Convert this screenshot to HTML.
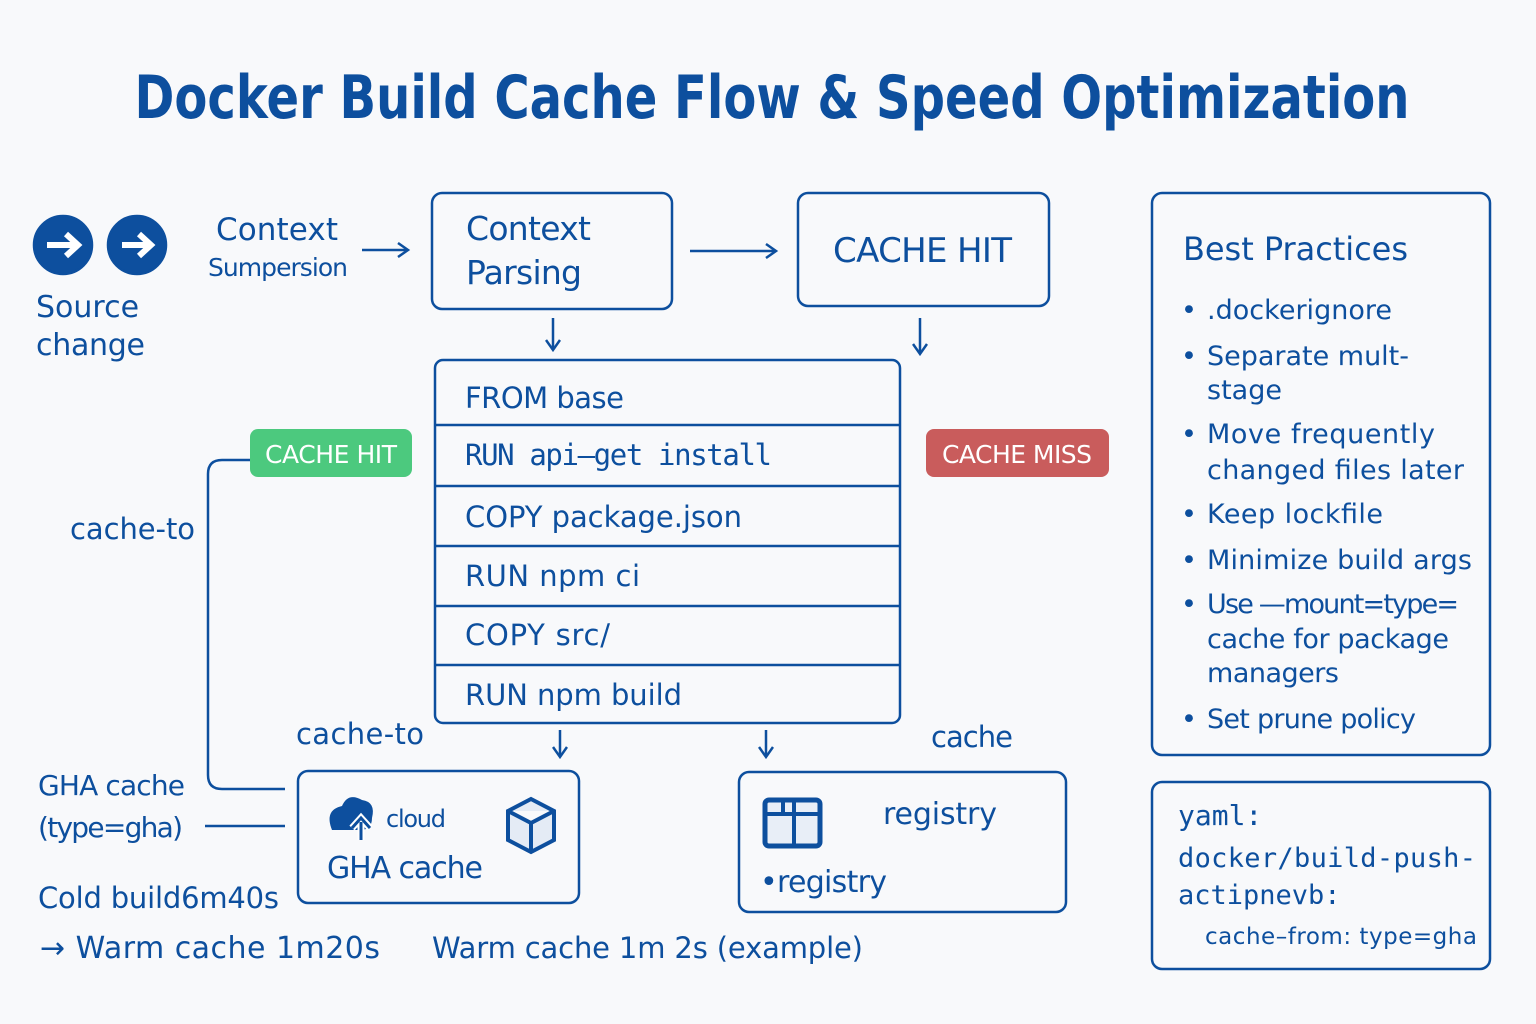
<!DOCTYPE html>
<html><head><meta charset="utf-8"><style>
html,body{margin:0;padding:0;background:#f8f9fb;}
svg{display:block}
text{font-family:"DejaVu Sans","Liberation Sans",sans-serif;fill:#0d4f9e}
.m{font-family:"DejaVu Sans Mono","Liberation Mono",monospace}
</style></head><body>
<svg width="1536" height="1024" viewBox="0 0 1536 1024" xmlns="http://www.w3.org/2000/svg">
<defs><marker id="a" markerWidth="14" markerHeight="16" refX="11" refY="8" orient="auto" markerUnits="userSpaceOnUse"><path d="M1,1 L11,8 L1,15" fill="none" stroke="#0d4f9e" stroke-width="2.5"/></marker></defs>
<rect width="1536" height="1024" fill="#f8f9fb"/>
<text x="772" y="118" text-anchor="middle" font-size="60" font-weight="bold" textLength="1275" lengthAdjust="spacingAndGlyphs">Docker Build Cache Flow &amp; Speed Optimization</text>
<g stroke="#0d4f9e" stroke-width="2.5" fill="none">
<circle cx="63" cy="245" r="29" fill="#0d4f9e"/><circle cx="137" cy="245" r="29" fill="#0d4f9e"/>
<path d="M47,245 H77 M66,234 L78,245 L66,256" stroke="#fff" stroke-width="6"/>
<path d="M122,245 H150 M139,234 L151,245 L139,256" stroke="#fff" stroke-width="6"/>
<line x1="362" y1="250" x2="408" y2="250" marker-end="url(#a)"/>
<rect x="432" y="193" width="240" height="116" rx="10"/>
<line x1="690" y1="251" x2="776" y2="251" marker-end="url(#a)"/>
<rect x="798" y="193" width="251" height="113" rx="10"/>
<line x1="553" y1="318" x2="553" y2="350" marker-end="url(#a)"/>
<line x1="920" y1="318" x2="920" y2="354" marker-end="url(#a)"/>
<rect x="435" y="360" width="465" height="363" rx="8"/>
<path d="M435,425H900 M435,486H900 M435,546H900 M435,606H900 M435,665H900"/>
<path d="M285,789 H222 Q208,789 208,775 V474 Q208,460 222,460 H250"/>
<line x1="560" y1="730" x2="560" y2="757" marker-end="url(#a)"/>
<line x1="766" y1="730" x2="766" y2="757" marker-end="url(#a)"/>
<rect x="298" y="771" width="281" height="132" rx="10"/>
<rect x="739" y="772" width="327" height="140" rx="10"/>
<line x1="205" y1="826" x2="285" y2="826"/>
<rect x="1152" y="193" width="338" height="562" rx="10"/>
<rect x="1152" y="782" width="338" height="187" rx="10"/>
<path d="M531,799 L554,811 V840 L531,852 L508,840 V811 Z M508,811 L531,823 L554,811 M531,823 V852" stroke-width="4" fill="#e4ebf5"/>
<rect x="765" y="800" width="55" height="46" rx="4" stroke-width="5" fill="#e8eef7"/>
<path d="M765,814 H820 M783,800 V814 M794,800 V846" stroke-width="4"/>
</g>
<path d="M332,830 Q324,810 342,806 Q348,792 362,800 Q376,802 372,818 Q372,830 360,830 Z" fill="#0d4f9e"/>
<path d="M361,840 V822 M352,828 L361,818 L370,828" stroke="#fff" stroke-width="7" fill="none"/>
<path d="M361,840 V822 M352,828 L361,818 L370,828" stroke="#0d4f9e" stroke-width="3" fill="none"/>
<rect x="250" y="429" width="162" height="48" rx="8" fill="#4cc97e"/>
<text x="331" y="463" text-anchor="middle" font-size="25" style="fill:#fff" textLength="132">CACHE HIT</text>
<rect x="926" y="429" width="183" height="48" rx="8" fill="#c95c5c"/>
<text x="1017" y="463" text-anchor="middle" font-size="25" style="fill:#fff" textLength="150">CACHE MISS</text>
<text x="36" y="317" font-size="30">Source</text>
<text x="36" y="355" font-size="30" textLength="109">change</text>
<text x="216" y="240" font-size="31" textLength="122">Context</text>
<text x="208" y="276" font-size="25" textLength="140">Sumpersion</text>
<text x="466" y="240" font-size="33" textLength="125">Context</text>
<text x="466" y="284" font-size="33" textLength="116">Parsing</text>
<text x="833" y="262" font-size="34" textLength="179">CACHE HIT</text>
<g font-size="29">
<text x="465" y="408" textLength="159">FROM base</text>
<text x="465" y="465" class="m" textLength="307">RUN api–get install</text>
<text x="465" y="527" textLength="277">COPY package.json</text>
<text x="465" y="586" textLength="175">RUN npm ci</text>
<text x="465" y="645" textLength="145">COPY src/</text>
<text x="465" y="705" textLength="217">RUN npm build</text>
</g>
<text x="70" y="539" font-size="29" textLength="125">cache-to</text>
<text x="296" y="744" font-size="29" textLength="128">cache-to</text>
<text x="931" y="747" font-size="29" textLength="82">cache</text>
<text x="386" y="827" font-size="24" textLength="60">cloud</text>
<text x="327" y="878" font-size="30" textLength="156">GHA cache</text>
<text x="883" y="824" font-size="30" textLength="114">registry</text>
<text x="760" y="892" font-size="30" textLength="127">•registry</text>
<text x="38" y="795" font-size="28" textLength="147">GHA cache</text>
<text x="38" y="837" font-size="28" textLength="145">(type=gha)</text>
<text x="38" y="908" font-size="29" textLength="241">Cold build6m40s</text>
<text x="40" y="958" font-size="30" textLength="340">→ Warm cache 1m20s</text>
<text x="432" y="958" font-size="29" textLength="431">Warm cache 1m 2s (example)</text>
<text x="1183" y="260" font-size="32" textLength="225">Best Practices</text>
<g font-size="27">
<text x="1181" y="319">•</text><text x="1207" y="319" textLength="185">.dockerignore</text>
<text x="1181" y="365">•</text><text x="1207" y="365" textLength="202">Separate mult-</text>
<text x="1207" y="399">stage</text>
<text x="1181" y="443">•</text><text x="1207" y="443" textLength="228">Move frequently</text>
<text x="1207" y="479" textLength="257">changed files later</text>
<text x="1181" y="523">•</text><text x="1207" y="523" textLength="176">Keep lockfile</text>
<text x="1181" y="569">•</text><text x="1207" y="569" textLength="265">Minimize build args</text>
<text x="1181" y="613">•</text><text x="1207" y="613" textLength="252">Use —mount=type=</text>
<text x="1207" y="648" textLength="242">cache for package</text>
<text x="1207" y="682" textLength="132">managers</text>
<text x="1181" y="728">•</text><text x="1207" y="728" textLength="209">Set prune policy</text>
</g>
<text x="1178" y="825" font-size="28" class="m">yaml:</text>
<text x="1178" y="867" font-size="27" class="m" textLength="298">docker/build-push-</text>
<text x="1178" y="904" font-size="27" class="m">actipnevb:</text>
<text x="1205" y="944" font-size="23" textLength="272">cache–from: type=gha</text>
</svg>
</body></html>
